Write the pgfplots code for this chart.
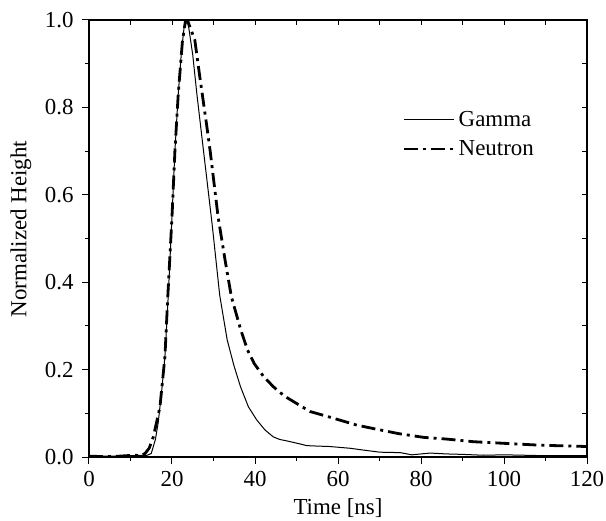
\documentclass[border=0pt]{standalone}
\usepackage{fontspec}
\setmainfont{Liberation Serif}
\usepackage{pgfplots}
\pgfplotsset{compat=1.18}
\begin{document}
\begin{tikzpicture}
\path[use as bounding box] (-89bp,-64bp) rectangle (517bp,457bp);
\begin{axis}[
  at={(0,0)}, anchor=south west,
  scale only axis, width=498bp, height=437bp,
  xmin=0, xmax=120, ymin=0, ymax=1,
  xtick={0,20,...,120}, minor xtick={10,30,...,110},
  ytick={0,0.2,...,1.0}, minor ytick={0.1,0.3,...,0.9},
  xtick pos=bottom, ytick pos=left,
  tick align=outside,
  major tick length=7bp, minor tick length=4bp,
  every tick/.style={black, line width=1bp},
  axis line style={line width=1.3bp},
  /pgf/number format/assume math mode=true,
  /pgf/number format/fixed, /pgf/number format/fixed zerofill,
  /pgf/number format/precision=1,
  xticklabel={\pgfmathprintnumber[fixed,precision=0]{\tick}},
  tick label style={font=\fontsize{23}{26}\selectfont},
  xticklabel style={yshift=-4bp},
  yticklabel style={xshift=-5bp},
  every axis x label/.style={at={(axis description cs:0.5,-0.118)}, anchor=center,
    font=\fontsize{23}{26}\selectfont},
  every axis y label/.style={at={(axis description cs:-0.137,0.522)}, anchor=center,
    rotate=90, font=\fontsize{23}{26}\selectfont},
  xlabel={Time [ns]}, ylabel={Normalized Height},
  legend style={draw=none, fill=none, at={(0.624,0.799)}, anchor=north west,
    font=\fontsize{23}{26}\selectfont, row sep=11bp, column sep=2bp,
    nodes={inner sep=1bp, anchor=west}},
  legend cell align=left,
  legend image code/.code={\draw[#1] (0bp,0bp) -- (50bp,0bp);},
]
\addplot[black, line width=1bp] coordinates {
(0,0.002)(5,0.002)(10,0.003)(13,0.004)(14,0.004)(15,0.008)(16,0.04)(16.7,0.08)
(17.5,0.15)(18.3,0.23)(19.1,0.37)(20,0.55)(20.7,0.70)(21.5,0.83)(22.3,0.93)
(23.0,0.99)(23.5,1.0)(24,0.985)(25,0.92)(26,0.83)(27.6,0.70)(29.7,0.53)
(31.5,0.37)(33.3,0.268)(34.9,0.21)(36.5,0.161)(38.4,0.115)(40.4,0.085)
(42.4,0.062)(44.4,0.046)(46,0.040)(47.6,0.037)(50.8,0.030)(52.5,0.026)
(55,0.025)(58,0.024)(62.9,0.020)(66,0.016)(70.1,0.011)(75,0.010)(77.8,0.005)
(82.2,0.009)(86.2,0.007)(90,0.006)(95,0.004)(100,0.005)(105,0.004)(110,0.003)
(115,0.003)(120,0.003)};
\addlegendentry{Gamma}
\addplot[black, line width=2.8bp, dash pattern=on 14bp off 5bp on 3bp off 5bp] coordinates {
(0,0.002)(3,0.001)(6,0.001)(9,0.003)(11,0.004)(12.5,0.003)(13.5,0.008)
(14.5,0.02)(15.5,0.046)(16.3,0.08)(17.1,0.115)(18.3,0.23)(19,0.37)(20,0.55)
(20.7,0.70)(21.5,0.83)(22.5,0.95)(23.2,0.995)(23.9,0.995)(25.5,0.954)
(26.7,0.870)(28.4,0.756)(29.2,0.70)(31.1,0.55)(32.8,0.45)(34.3,0.367)(36.6,0.29)
(38.2,0.245)(39.8,0.214)(42,0.185)(44.4,0.161)(47,0.14)(50.8,0.118)(53.3,0.104)
(58.1,0.091)(64.5,0.073)(70.1,0.062)(74.9,0.053)(80.6,0.045)(86.2,0.041)
(92.6,0.035)(100.6,0.031)(108.7,0.027)(120,0.024)};
\addlegendentry{Neutron}
\end{axis}
\begin{axis}[
  at={(0,0)}, anchor=south west,
  scale only axis, width=498bp, height=437bp,
  xmin=0, xmax=120, ymin=0, ymax=1,
  xtick={0,10,...,120}, ytick={0,0.1,...,1.0},
  xtick pos=top, ytick pos=right,
  tick align=inside, major tick length=5bp,
  every tick/.style={black, line width=1bp},
  axis line style={line width=1.3bp},
  xticklabels={}, yticklabels={},
]
\end{axis}
\end{tikzpicture}
\end{document}
